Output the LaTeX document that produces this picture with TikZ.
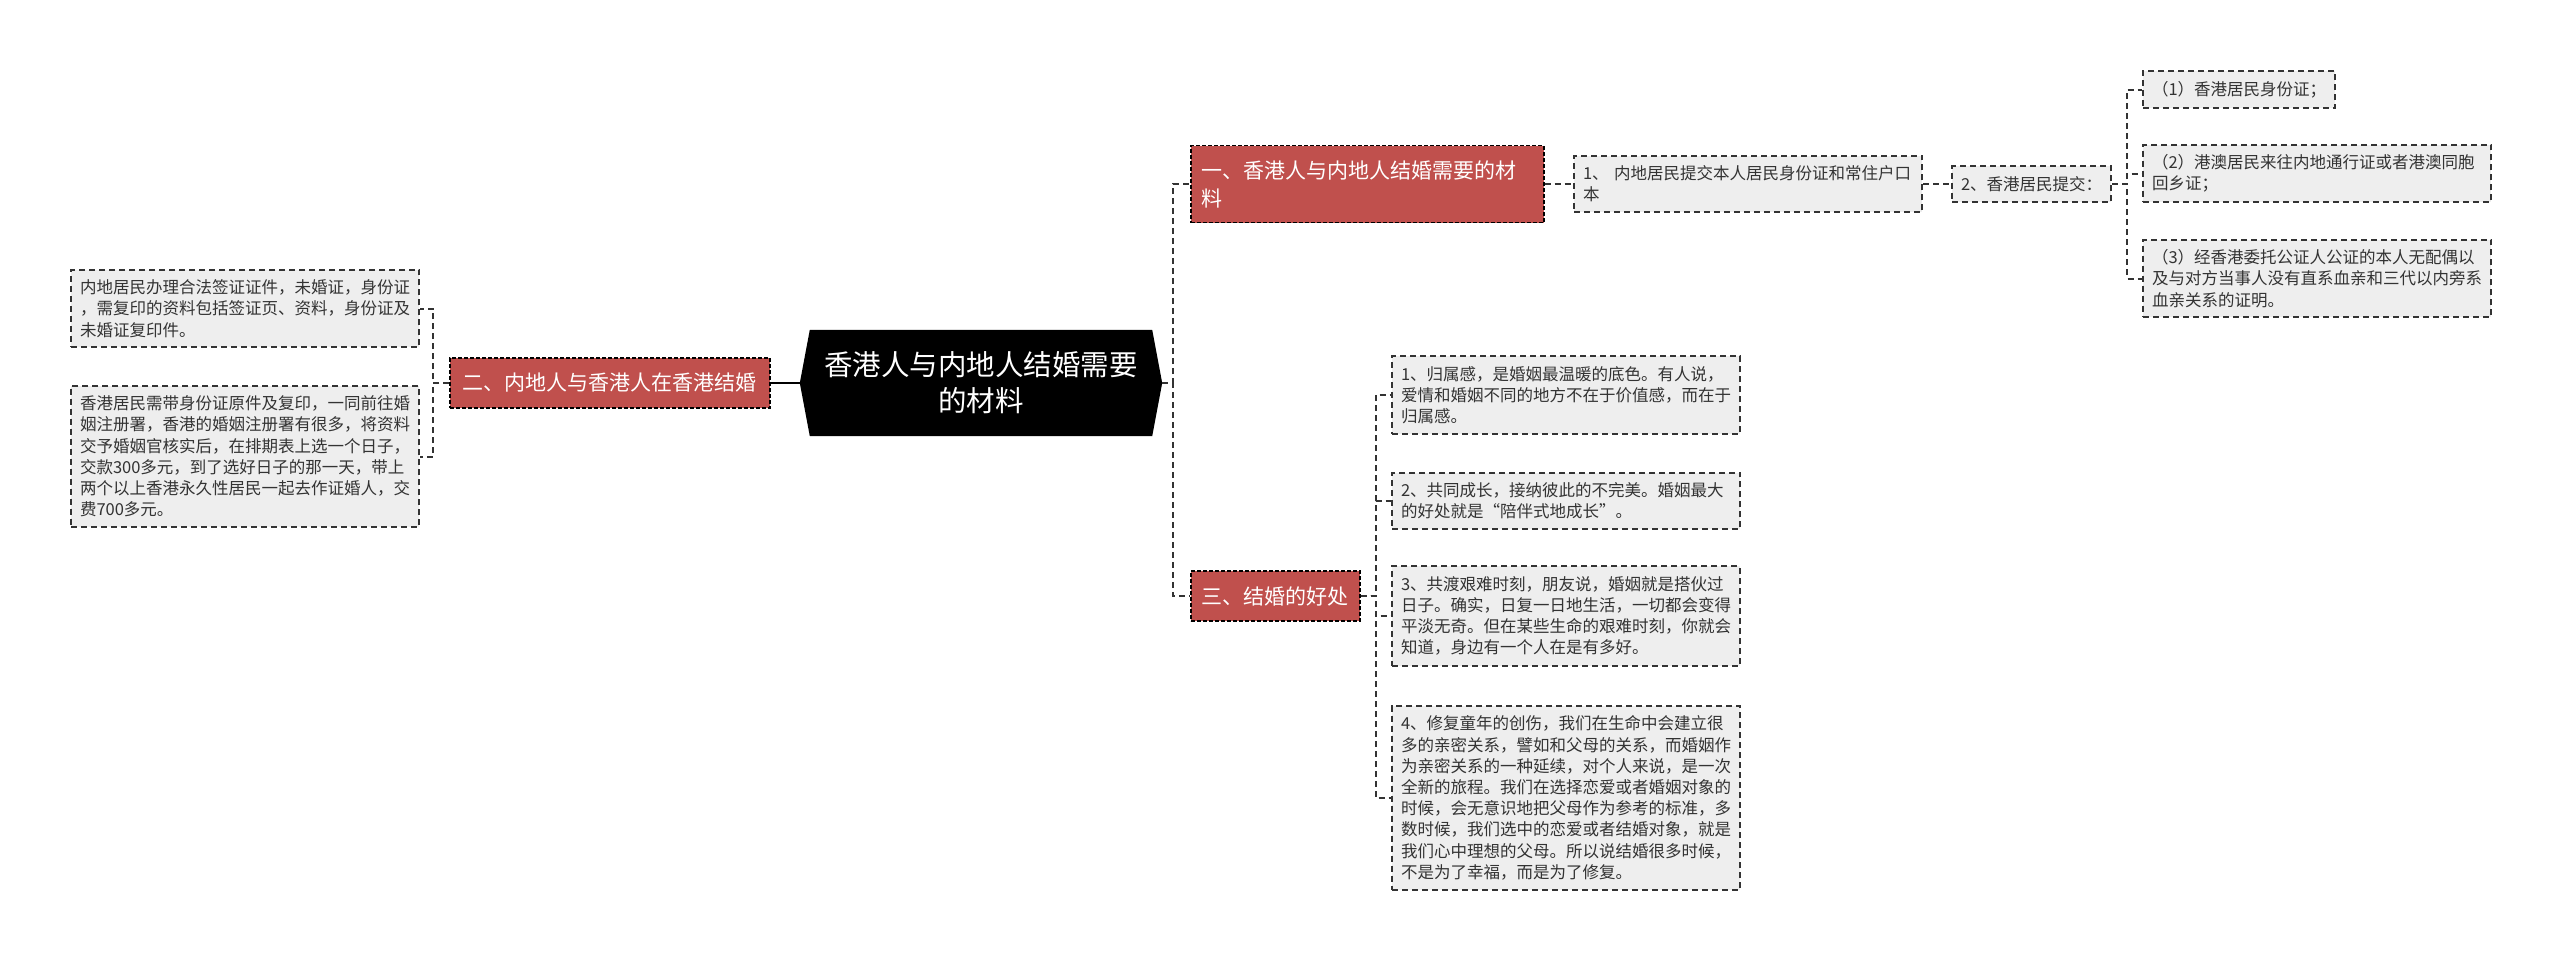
\documentclass[tikz,border=0pt]{standalone}
\usepackage{fontspec}
\setmainfont{Noto Sans CJK SC}
\usetikzlibrary{backgrounds}
\definecolor{branchred}{HTML}{C0504D}
\definecolor{leafgray}{HTML}{EEEEEE}
\definecolor{linegray}{HTML}{333333}
\begin{document}
\begin{tikzpicture}[x=1pt, y=-1pt,
		link/.style={linegray, line width=2pt, dash pattern=on 6pt off 4pt},
		trunk/.style={black, line width=2.5pt},
		leaf/.style={draw=linegray, fill=leafgray, line width=2pt, dash pattern=on 6pt off 4pt, anchor=west, align=left, inner xsep=9pt, inner ysep=10pt, text=linegray, font=\fontsize{16.5}{21.2}\selectfont},
		wideleaf/.style={leaf, text width=330pt},
		branch/.style={draw=black, fill=branchred, line width=1.5pt, dash pattern=on 4pt off 2pt, anchor=west, align=left, inner xsep=11pt, inner ysep=11pt, minimum height=50pt, text=white, font=\fontsize{21}{28}\selectfont},
		topic/.style={minimum width=342pt, minimum height=106pt, align=center, text=white, font=\fontsize{28.5}{36}\selectfont}]
	\useasboundingbox (0,0) rectangle (2560,961);
	
	\node[topic] (root) at (981,383) {香港人与内地人结婚需要\\的材料};
	\coordinate (rootL) at ([xshift=-10pt]root.west);
	\coordinate (rootR) at ([xshift=10pt]root.east);
	\begin{scope}[on background layer]
		\fill[black] (root.north west) -- (root.north east) -- (rootR) -- (root.south east) -- (root.south west) -- (rootL) -- cycle;
	\end{scope}
	
	\node[branch, minimum width=320pt] (home) at (449,383) {二、内地人与香港人在香港结婚};
	\node[wideleaf] (home1) at (70,308.5) {内地居民办理合法签证证件，未婚证，身份证\\，需复印的资料包括签证页、资料，身份证及\\未婚证复印件。};
	\node[wideleaf] (home2) at (70,456.5) {香港居民需带身份证原件及复印，一同前往婚\\姻注册署，香港的婚姻注册署有很多，将资料\\交予婚姻官核实后，在排期表上选一个日子，\\交款300多元，到了选好日子的那一天，带上\\两个以上香港永久性居民一起去作证婚人，交\\费700多元。};
	\draw[trunk] (home.east) -- (rootL);
	\draw[link] (home.west) -- ++(-16,0) |- (home1.east);
	\draw[link] (home.west) -- ++(-16,0) |- (home2.east);
	
	\node[branch, text width=331pt, minimum height=77pt] (docs) at (1190,184) {一、香港人与内地人结婚需要的材\\料};
	\node[wideleaf] (mainland) at (1573,184) {1、 内地居民提交本人居民身份证和常住户口\\本};
	\node[leaf] (hk) at (1951,184) {2、香港居民提交：};
	\node[leaf] (hk1) at (2142,89.5) {（1）香港居民身份证；};
	\node[wideleaf] (hk2) at (2142,173.5) {（2）港澳居民来往内地通行证或者港澳同胞\\回乡证；};
	\node[wideleaf] (hk3) at (2142,278.5) {（3）经香港委托公证人公证的本人无配偶以\\及与对方当事人没有直系血亲和三代以内旁系\\血亲关系的证明。};
	\draw[link] (rootR) -- ++(11,0) |- (docs.west);
	\draw[link] (docs.east) -- (mainland.west);
	\draw[link] (mainland.east) -- (hk.west);
	\draw[link] (hk.east) -- ++(15,0) |- (hk1.west);
	\draw[link] (hk.east) -- ++(15,0) |- (hk2.west);
	\draw[link] (hk.east) -- ++(15,0) |- (hk3.west);
	
	\node[branch] (gain) at (1190,596) {三、结婚的好处};
	\node[wideleaf] (gain1) at (1391,395) {1、归属感，是婚姻最温暖的底色。有人说，\\爱情和婚姻不同的地方不在于价值感，而在于\\归属感。};
	\node[wideleaf] (gain2) at (1391,501) {2、共同成长，接纳彼此的不完美。婚姻最大\\的好处就是“陪伴式地成长”。};
	\node[wideleaf] (gain3) at (1391,616) {3、共渡艰难时刻，朋友说，婚姻就是搭伙过\\日子。确实，日复一日地生活，一切都会变得\\平淡无奇。但在某些生命的艰难时刻，你就会\\知道，身边有一个人在是有多好。};
	\node[wideleaf] (gain4) at (1391,798) {4、修复童年的创伤，我们在生命中会建立很\\多的亲密关系，譬如和父母的关系，而婚姻作\\为亲密关系的一种延续，对个人来说，是一次\\全新的旅程。我们在选择恋爱或者婚姻对象的\\时候，会无意识地把父母作为参考的标准，多\\数时候，我们选中的恋爱或者结婚对象，就是\\我们心中理想的父母。所以说结婚很多时候，\\不是为了幸福，而是为了修复。};
	\draw[link] (rootR) -- ++(11,0) |- (gain.west);
	\draw[link] (gain.east) -- ++(15,0) |- (gain1.west);
	\draw[link] (gain.east) -- ++(15,0) |- (gain2.west);
	\draw[link] (gain.east) -- ++(15,0) |- (gain3.west);
	\draw[link] (gain.east) -- ++(15,0) |- (gain4.west);
\end{tikzpicture}
\end{document}
